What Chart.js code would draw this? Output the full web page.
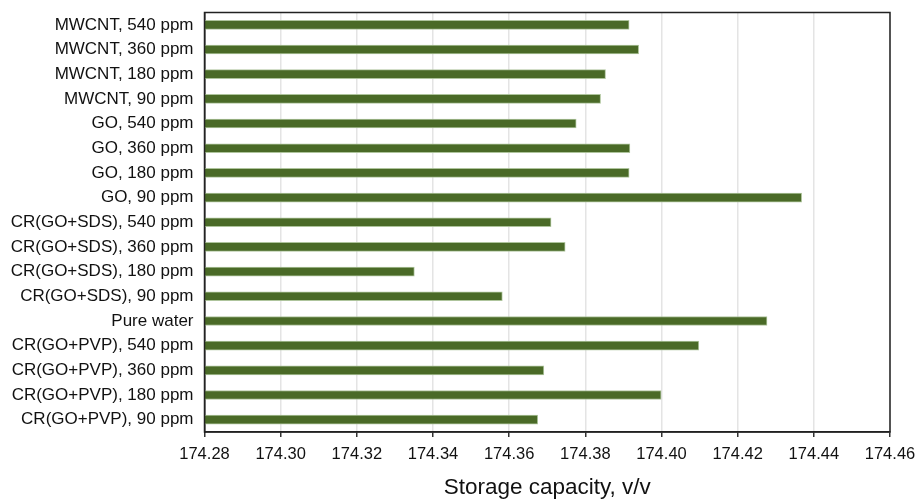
<!DOCTYPE html>
<html>
<head>
<meta charset="utf-8">
<title>Storage capacity</title>
<script src="https://cdn.jsdelivr.net/npm/chart.js@4/dist/chart.umd.min.js"></script>
<style>
  html, body { margin: 0; padding: 0; background: #fff; }
  #wrap { width: 917px; height: 501px; }
</style>
</head>
<body>
<div id="wrap"><canvas id="capacityChart" width="917" height="501"></canvas></div>
<script>
// Samples, listed top to bottom
const samples = [
  "MWCNT, 540 ppm",
  "MWCNT, 360 ppm",
  "MWCNT, 180 ppm",
  "MWCNT, 90 ppm",
  "GO, 540 ppm",
  "GO, 360 ppm",
  "GO, 180 ppm",
  "GO, 90 ppm",
  "CR(GO+SDS), 540 ppm",
  "CR(GO+SDS), 360 ppm",
  "CR(GO+SDS), 180 ppm",
  "CR(GO+SDS), 90 ppm",
  "Pure water",
  "CR(GO+PVP), 540 ppm",
  "CR(GO+PVP), 360 ppm",
  "CR(GO+PVP), 180 ppm",
  "CR(GO+PVP), 90 ppm"
];

// Storage capacity, v/v
const capacity = [
  174.3915, 174.3940, 174.3853, 174.3840,
  174.3776, 174.3917, 174.3915, 174.4368,
  174.3710, 174.3747, 174.3351, 174.3582,
  174.4277,
  174.4098, 174.3691, 174.3999, 174.3675
];

const xTicks = [174.28, 174.30, 174.32, 174.34, 174.36, 174.38, 174.40, 174.42, 174.44, 174.46];

const FONT = "'Liberation Sans', Arial, sans-serif";

// Box around the plot area
const frame = {
  id: "frame",
  afterDraw(chart) {
    const { ctx, chartArea: a } = chart;
    ctx.save();
    ctx.strokeStyle = "#222";
    ctx.lineWidth = 1.5;
    ctx.strokeRect(a.left, a.top, a.right - a.left, a.bottom - a.top);
    ctx.restore();
  }
};

new Chart(document.getElementById("capacityChart").getContext("2d"), {
  type: "bar",
  data: {
    labels: samples,
    datasets: [
      {
        label: "Storage capacity",
        data: capacity,
        backgroundColor: "#4a6a27",
        borderColor: "rgba(165,190,145,0.9)",
        borderWidth: 1,
        barThickness: 9
      }
    ]
  },
  options: {
    indexAxis: "y",
    responsive: false,
    animation: false,
    layout: { padding: { left: 0, right: 27, top: 12.5, bottom: 0 } },
    plugins: {
      legend: { display: false },
      tooltip: { enabled: false }
    },
    scales: {
      x: {
        min: 174.28,
        max: 174.46,
        afterBuildTicks: (scale) => {
          scale.ticks = xTicks.map((v) => ({ value: v }));
        },
        afterFit: (scale) => {
          scale.height = 69;
          scale.paddingLeft = 0;
          scale.paddingRight = 0;
        },
        grid: {
          color: "#e4e4e4",
          lineWidth: 1.5,
          tickColor: "#333",
          tickLength: 5
        },
        border: { color: "#222", width: 1.5 },
        ticks: {
          color: "#111",
          padding: 8,
          maxRotation: 0,
          font: { family: FONT, size: 16.5 },
          callback: (v) => Number(v).toFixed(2)
        },
        title: {
          display: true,
          text: "Storage capacity, v/v",
          color: "#111",
          padding: 0,
          font: { family: FONT, size: 22.5, lineHeight: 1.2 }
        }
      },
      y: {
        afterFit: (scale) => {
          scale.width = 204.5;
          scale.paddingTop = 0;
          scale.paddingBottom = 0;
        },
        grid: { display: false, drawTicks: false, tickLength: 0 },
        border: { color: "#222", width: 1.5 },
        ticks: {
          color: "#111",
          padding: 11,
          autoSkip: false,
          font: { family: FONT, size: 17 }
        }
      }
    }
  },
  plugins: [frame]
});
</script>
</body>
</html>
